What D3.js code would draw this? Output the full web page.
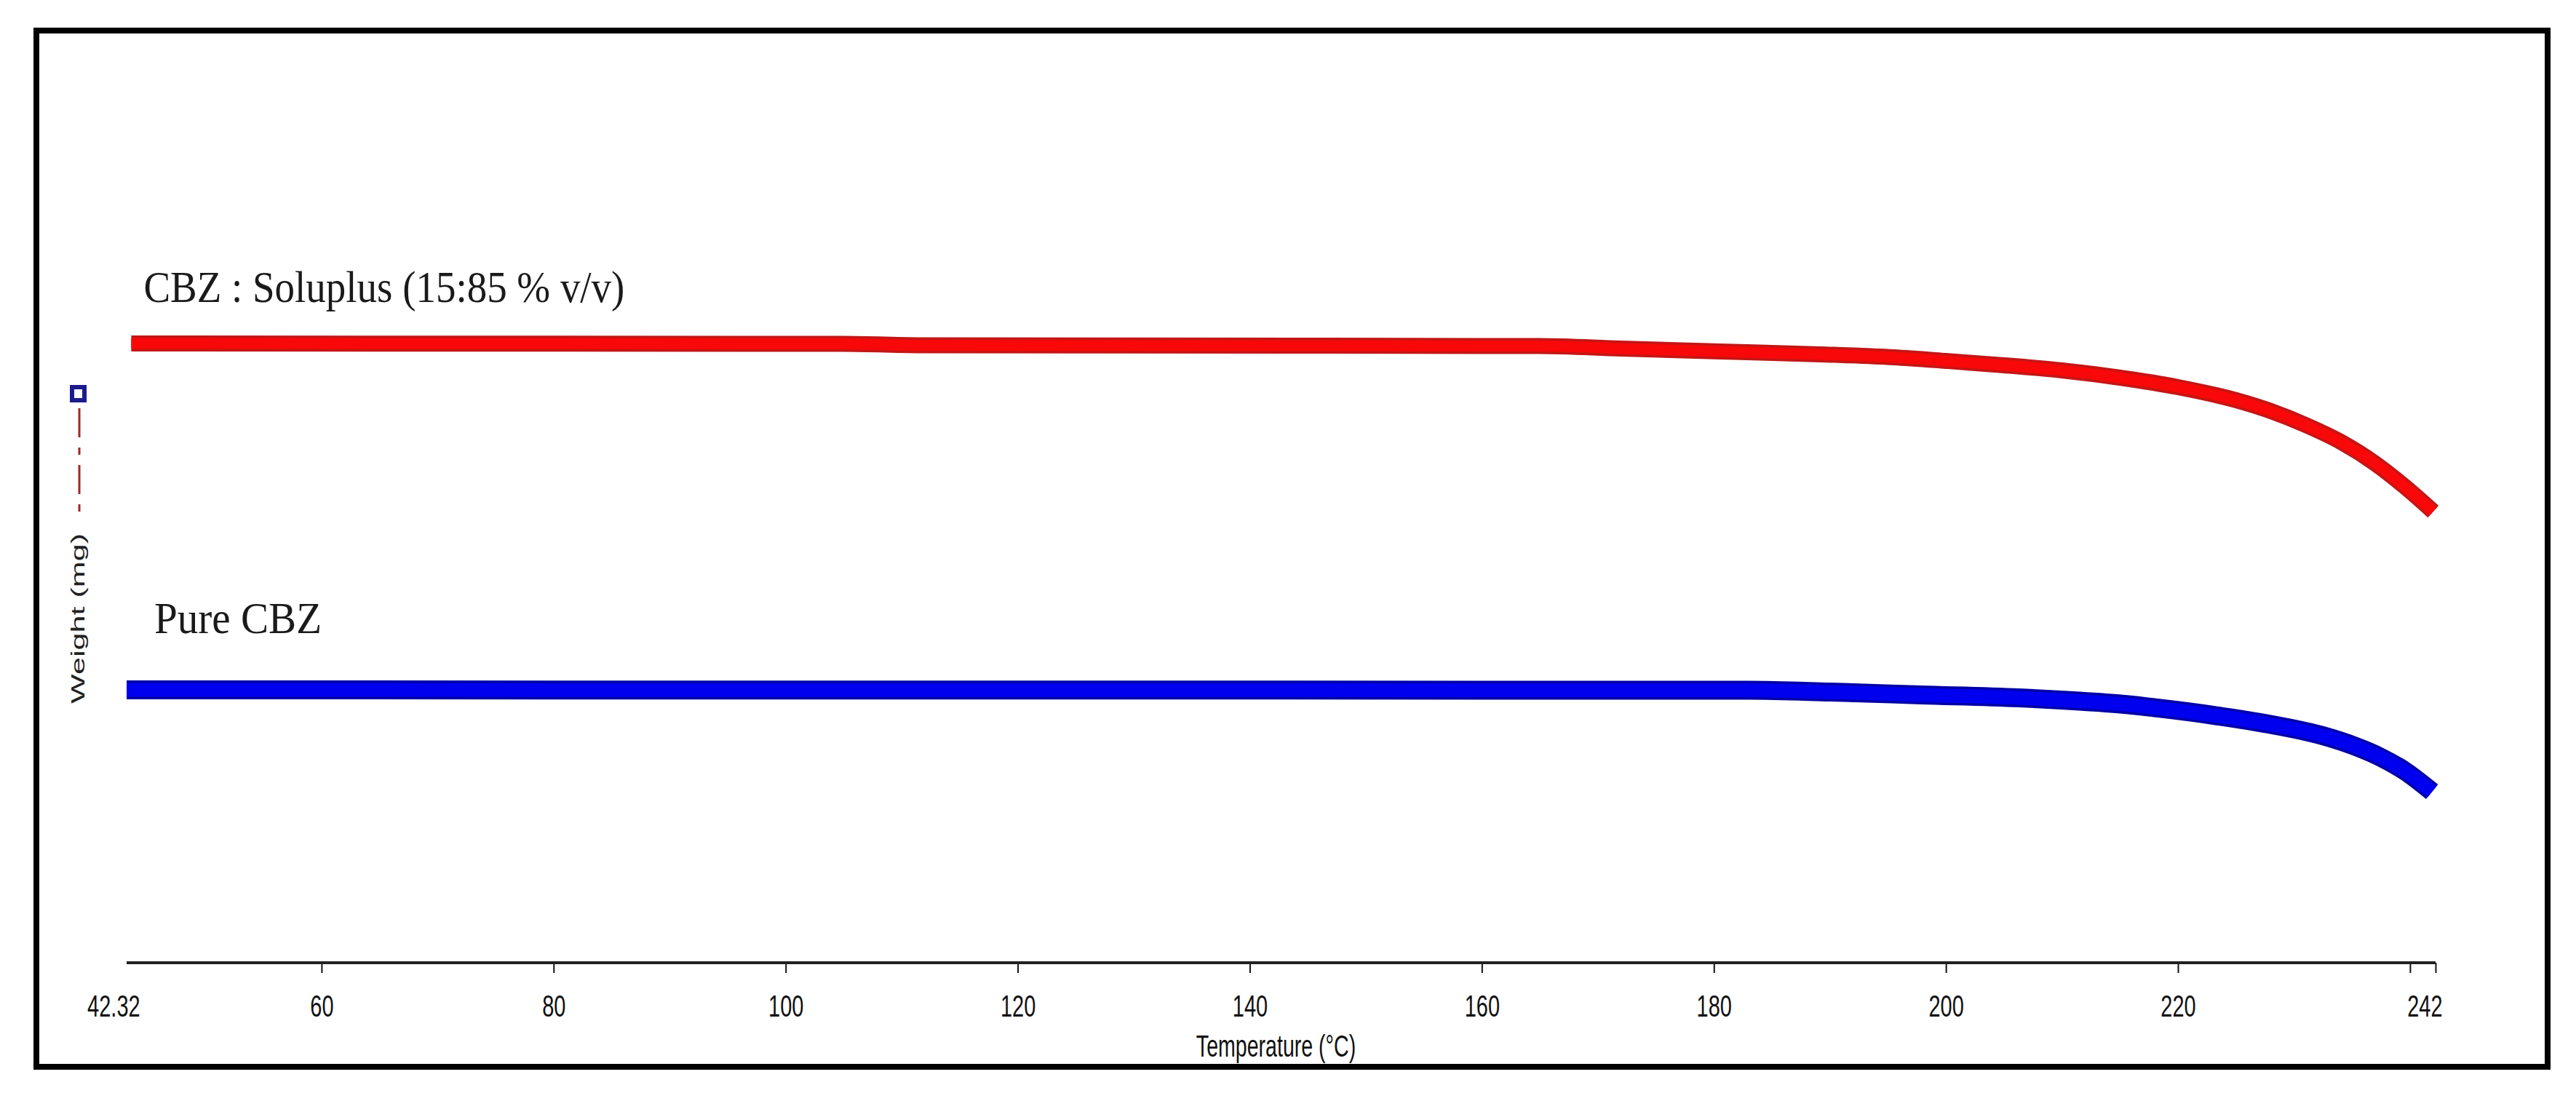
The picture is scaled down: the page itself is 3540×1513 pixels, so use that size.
<!DOCTYPE html>
<html><head><meta charset="utf-8">
<script src="https://cdn.jsdelivr.net/npm/d3@7"></script>
<style>html,body{margin:0;padding:0;background:#fff;}</style>
</head><body>
<svg id="chart" width="3540" height="1513"></svg>
<script>
// ---- data ----
const redName = "CBZ : Soluplus (15:85 % v/v)";
const redTemps   = [43.6, 105, 112, 165, 172, 180.5, 189.2, 195.5, 200, 205, 210, 215, 220, 225, 228, 231, 234, 237, 239.5, 242];
const redWeights = [70.92, 70.875, 70.71, 70.625, 70.33, 70.0, 69.67, 69.33, 68.92, 68.42, 67.83, 67.0, 65.92, 64.42, 63.17, 61.58, 59.67, 57.17, 54.58, 51.67];

const blueName = "Pure CBZ";
const blueTemps   = [43.2, 183, 190, 197.9, 206.3, 211, 215.4, 218.2, 223.1, 227.8, 232.7, 235.2, 237.4, 239.6, 241.9];
const blueWeights = [31.25, 31.21, 31.0, 30.67, 30.33, 30.0, 29.58, 29.17, 28.33, 27.33, 25.92, 24.83, 23.58, 21.92, 19.58];

const tickValues = [42.32, 60, 80, 100, 120, 140, 160, 180, 200, 220, 240, 242.2];
const tickLabels = ["42.32", "60", "80", "100", "120", "140", "160", "180", "200", "220", "", "242"];
const xTitle = "Temperature (°C)";
const yTitle = "Weight (mg)";

// ---- scales ----
const svg = d3.select("#chart");
const x = d3.scaleLinear().domain([42.32, 242.2]).range([160, 3347]);
const y = d3.scaleLinear().domain([0, 100]).range([1323, 123]);

// frame
svg.append("rect").attr("x", 50).attr("y", 42).attr("width", 3451).attr("height", 1424)
  .attr("fill", "#fff").attr("stroke", "#000").attr("stroke-width", 8);

// x axis
const axisG = svg.append("g").attr("transform", `translate(0,${y(0)})`);
axisG.call(d3.axisBottom(x).tickValues(tickValues).tickSize(14).tickPadding(30)
  .tickFormat((d, i) => tickLabels[i]));
axisG.select(".domain").remove();
axisG.selectAll(".tick line").attr("stroke", "#111").attr("stroke-width", 2)
  .filter(d => d === 42.32).remove();
axisG.selectAll(".tick text")
  .attr("font-family", "'Liberation Sans', Arial, sans-serif")
  .attr("font-size", 42).attr("fill", "#111")
  .attr("dy", "0.71em")
  .attr("transform", "scale(0.69,1)");
axisG.selectAll(".tick").filter(d => d === 242.2).select("text").attr("x", -22);
axisG.selectAll(".tick").filter(d => d === 42.32).select("text").attr("x", -6);
// baseline from data start to axis end
axisG.append("line")
  .attr("x1", x(blueTemps[0])).attr("x2", x(242.2)).attr("y1", 0).attr("y2", 0)
  .attr("stroke", "#222").attr("stroke-width", 4);

// axis titles
const xMid = (x(42.32) + x(242.2)) / 2;
svg.append("text").attr("x", 0).attr("y", 0)
  .attr("text-anchor", "middle")
  .attr("font-family", "'Liberation Sans', Arial, sans-serif")
  .attr("font-size", 42).attr("fill", "#111")
  .attr("transform", `translate(${xMid},1452) scale(0.68,1)`)
  .text(xTitle);

svg.append("text")
  .attr("transform", "translate(116,850) rotate(-90)")
  .attr("text-anchor", "middle")
  .attr("font-family", "'Liberation Sans', Arial, sans-serif")
  .attr("font-size", 26).attr("fill", "#222")
  .attr("textLength", 234).attr("lengthAdjust", "spacingAndGlyphs")
  .text(yTitle);

// legend icon on y axis
svg.append("rect").attr("x", 99).attr("y", 532).attr("width", 17).attr("height", 18)
  .attr("fill", "#fff").attr("stroke", "#1c1c8c").attr("stroke-width", 6);
svg.append("line").attr("x1", 109).attr("x2", 109).attr("y1", 561).attr("y2", 710)
  .attr("stroke", "#9a2a2a").attr("stroke-width", 3).attr("stroke-dasharray", "40,14,10,14");

// curves
const line = d3.line().x(d => x(d[0])).y(d => y(d[1])).curve(d3.curveMonotoneX);
function drawSeries(temps, weights, outer, inner, w) {
  const pts = temps.map((t, i) => [t, weights[i]]);
  svg.append("path").attr("d", line(pts)).attr("fill", "none")
    .attr("stroke", outer).attr("stroke-width", w).attr("stroke-linecap", "butt");
  svg.append("path").attr("d", line(pts)).attr("fill", "none")
    .attr("stroke", inner).attr("stroke-width", w - 7).attr("stroke-linecap", "butt");
}
drawSeries(redTemps, redWeights, "#c41616", "#f80808", 22);
drawSeries(blueTemps, blueWeights, "#0000a6", "#0000ee", 26);

// series labels
svg.append("text").attr("x", x(redTemps[0]) + 17).attr("y", y(redWeights[0]) - 57)
  .attr("font-family", "'Liberation Serif', 'Times New Roman', serif")
  .attr("font-size", 62).attr("fill", "#1a1a1a")
  .attr("textLength", 661).attr("lengthAdjust", "spacingAndGlyphs")
  .text(redName);
svg.append("text").attr("x", x(blueTemps[0]) + 38).attr("y", y(blueWeights[0]) - 78)
  .attr("font-family", "'Liberation Serif', 'Times New Roman', serif")
  .attr("font-size", 62).attr("fill", "#1a1a1a")
  .attr("textLength", 230).attr("lengthAdjust", "spacingAndGlyphs")
  .text(blueName);
</script>
</body></html>
